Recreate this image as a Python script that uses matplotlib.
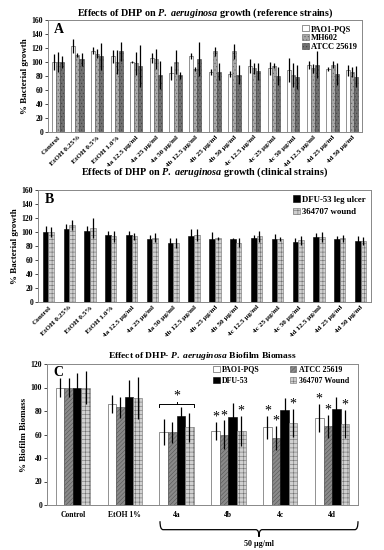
import matplotlib
matplotlib.use("Agg")
import matplotlib.pyplot as plt
import matplotlib.transforms as mtransforms
from matplotlib.path import Path
from matplotlib.patches import PathPatch
import numpy as np

plt.rcParams['font.family'] = ['Liberation Serif', 'DejaVu Serif']
plt.rcParams['font.weight'] = 'bold'
plt.rcParams['hatch.linewidth'] = 0.4
plt.rcParams['mathtext.fontset'] = 'custom'
plt.rcParams['mathtext.it'] = 'Liberation Serif:italic:bold'
plt.rcParams['mathtext.rm'] = 'Liberation Serif:bold'

# ---------------- data ----------------
cats_ab = ["Control", "EtOH 0.25%", "EtOH 0.5%", "EtOH 1.0%",
           "4a 12.5 µg/ml", "4a 25 µg/ml", "4a 50 µg/ml",
           "4b 12.5 µg/ml", "4b 25 µg/ml", "4b 50 µg/ml",
           "4c 12.5 µg/ml", "4c 25 µg/ml", "4c 50 µg/ml",
           "4d 12.5 µg/ml", "4d 25 µg/ml", "4d 50 µg/ml"]

a_pao1 = [100, 123, 116, 108, 100, 106, 85, 109, 86, 83, 94, 91, 89, 96, 90, 88]
a_pao1_err = [12, 10, 5, 9, 2, 7, 10, 4, 4, 4, 10, 9, 17, 6, 3, 8]
a_mh602 = [100, 110, 112, 100, 98, 104, 100, 90, 115, 115, 91, 95, 82, 91, 96, 86]
a_mh602_err = [14, 3, 6, 17, 16, 14, 17, 3, 7, 10, 8, 3, 17, 6, 5, 7]
a_atcc = [100, 104, 108, 115, 94, 82, 81, 104, 86, 82, 87, 80, 79, 96, 83, 79]
a_atcc_err = [8, 9, 19, 13, 30, 20, 5, 24, 12, 14, 12, 13, 17, 19, 16, 15]

b_dfu = [100, 104, 101, 96, 96, 90, 85, 94, 90, 90, 92, 90, 86, 93, 90, 87]
b_dfu_err = [8, 8, 8, 6, 6, 6, 7, 11, 10, 2, 4, 7, 5, 6, 5, 7]
b_wound = [100, 110, 106, 94, 94, 92, 84, 96, 91, 85, 94, 90, 88, 93, 91, 87]
b_wound_err = [7, 7, 14, 8, 5, 6, 7, 9, 2, 7, 8, 3, 7, 7, 5, 6]

cats_c = ["Control", "EtOH 1%", "4a", "4b", "4c", "4d"]
c_pao1 = [100, 86, 62, 63, 66, 74]
c_pao1_err = [8, 8, 11, 8, 10, 12]
c_atcc = [100, 83, 62, 60, 57, 67]
c_atcc_err = [8, 9, 9, 12, 10, 10]
c_dfu = [100, 92, 76, 75, 81, 82]
c_dfu_err = [12, 14, 7, 12, 10, 10]
c_wound = [100, 91, 66, 63, 70, 69]
c_wound_err = [14, 18, 12, 13, 12, 12]
c_star_pao1 = [False, False, False, True, True, True]
c_star_atcc = [False, False, False, True, True, True]
c_star_wound = [False, False, False, True, True, True]

# ---------------- figure ----------------
fig = plt.figure(figsize=(3.84, 5.5), dpi=100)
W, H = 384.0, 550.0

def ax_at(l, r, t, b):
    return fig.add_axes([l / W, 1 - b / H, (r - l) / W, (b - t) / H])

ekw = dict(ecolor='black', elinewidth=0.9, capsize=0)
edge = '#404040'
PA = r'$\mathit{P.}$ $\mathit{aeruginosa}$'

def style(ax, ymax, ylab):
    ax.set_ylim(0, ymax)
    ax.set_yticks(np.arange(0, ymax + 1, 20))
    ax.tick_params(axis='y', labelsize=5.5, length=2, width=0.5, pad=1.5)
    ax.tick_params(axis='x', labelsize=5.2, length=0, pad=2)
    for s in ax.spines.values():
        s.set_color('#888888')
        s.set_linewidth(0.7)
    ax.set_ylabel(ylab, fontsize=6.5, fontweight='bold', labelpad=2)

# Panel A
axA = ax_at(48, 362, 20, 132)
n = len(cats_ab)
x = np.arange(n)
w = 0.21
axA.bar(x - w, a_pao1, w, yerr=a_pao1_err, color='white', edgecolor=edge,
        linewidth=0.4, error_kw=ekw, label='PAO1-PQS')
axA.bar(x, a_mh602, w, yerr=a_mh602_err, color='#a8a8a8', edgecolor='#606060',
        hatch='.....', linewidth=0.4, error_kw=ekw, label='MH602')
axA.bar(x + w, a_atcc, w, yerr=a_atcc_err, color='#707070', edgecolor='#404040',
        hatch='.....', linewidth=0.4, error_kw=ekw, label='ATCC 25619')
axA.set_xlim(-0.5, n - 0.5)
axA.set_xticks(x)
axA.set_xticklabels(cats_ab, rotation=45, ha='right', rotation_mode='anchor')
style(axA, 160, '% Bacterial growth')
axA.set_title('Effects of DHP on ' + PA + ' growth (reference strains)',
              fontsize=7.3, fontweight='bold', pad=3)
axA.text(0.02, 0.97, 'A', transform=axA.transAxes, fontsize=10, fontweight='bold',
         va='top', ha='left')
axA.legend(loc='upper right', frameon=False, handlelength=0.8,
           handleheight=0.8, labelspacing=0.1, handletextpad=0.3,
           borderaxespad=0.2, prop={'weight': 'bold', 'size': 6.0})

# Panel B
axB = ax_at(38, 371, 190, 302)
w2 = 0.27
axB.bar(x - w2 / 2, b_dfu, w2, yerr=b_dfu_err, color='black', edgecolor='black',
        linewidth=0.4, error_kw=ekw, label='DFU-53 leg ulcer')
axB.bar(x + w2 / 2, b_wound, w2, yerr=b_wound_err, color='#d0d0d0', edgecolor='#707070',
        hatch='++++', linewidth=0.4, error_kw=ekw, label='364707 wound')
axB.set_xlim(-0.5, n - 0.5)
axB.set_xticks(x)
axB.set_xticklabels(cats_ab, rotation=45, ha='right', rotation_mode='anchor')
style(axB, 160, '% Bacterial growth')
axB.set_title('Effects of DHP on ' + PA + ' growth (clinical strains)',
              fontsize=7.3, fontweight='bold', pad=11)
axB.text(0.02, 0.97, 'B', transform=axB.transAxes, fontsize=10, fontweight='bold',
         va='top', ha='left')
axB.legend(loc='upper right', frameon=False, handlelength=0.8,
           handleheight=0.8, labelspacing=0.45, handletextpad=0.3,
           borderaxespad=0.2, prop={'weight': 'bold', 'size': 6.3})

# Panel C
axC = ax_at(47, 358, 364, 505)
m = len(cats_c)
xc = np.arange(m)
w3 = 0.165
offs = np.array([-1.5, -0.5, 0.5, 1.5]) * w3
bP = axC.bar(xc + offs[0], c_pao1, w3, yerr=c_pao1_err, color='white', edgecolor=edge,
             linewidth=0.4, error_kw=ekw, label='PAO1-PQS')
bA = axC.bar(xc + offs[1], c_atcc, w3, yerr=c_atcc_err, color='#8a8a8a', edgecolor='#555555',
             hatch='////////', linewidth=0.4, error_kw=ekw, label='ATCC 25619')
bD = axC.bar(xc + offs[2], c_dfu, w3, yerr=c_dfu_err, color='black', edgecolor='black',
             linewidth=0.4, error_kw=ekw, label='DFU-53')
bW = axC.bar(xc + offs[3], c_wound, w3, yerr=c_wound_err, color='#d0d0d0', edgecolor='#707070',
             hatch='++++', linewidth=0.4, error_kw=ekw, label='364707 Wound')
axC.set_xlim(-0.5, m - 0.5)
axC.set_xticks(xc)
axC.set_xticklabels(cats_c)
style(axC, 120, '% Biofilm Biomass')
axC.tick_params(axis='x', labelsize=5.5, pad=4)
axC.set_title('Effect of DHP- ' + PA + ' Biofilm Biomass',
              fontsize=6.8, fontweight='bold', pad=4)
axC.text(0.02, 0.985, 'C', transform=axC.transAxes, fontsize=10, fontweight='bold',
         va='top', ha='left')
axC.legend(handles=[bP, bD, bA, bW], loc='upper right', ncol=2, frameon=False,
           handlelength=0.8, handleheight=0.8, labelspacing=0.45, handletextpad=0.3,
           columnspacing=3.8, borderaxespad=0.15, bbox_to_anchor=(0.985, 1.02),
           prop={'weight': 'bold', 'size': 5.7})

# stars
for i in range(m):
    for vals, errs, flags, o in [(c_pao1, c_pao1_err, c_star_pao1, offs[0]),
                                 (c_atcc, c_atcc_err, c_star_atcc, offs[1]),
                                 (c_wound, c_wound_err, c_star_wound, offs[3])]:
        if flags[i]:
            axC.text(i + o, vals[i] + errs[i] - 1.5, '*', ha='center', va='bottom',
                     fontsize=10, fontweight='normal')
# bracket over 4a group
gi = 2
xl, xr = gi + offs[0] - w3 / 2, gi + offs[3] + w3 / 2
axC.plot([xl, xl, xr, xr], [83, 86, 86, 83], color='black', lw=0.7)
axC.plot([gi, gi], [86, 88], color='black', lw=0.7)
axC.text(gi, 87, '*', ha='center', va='bottom', fontsize=10, fontweight='normal')

# curly brace below x axis
tr = mtransforms.blended_transform_factory(axC.transData, axC.transAxes)
bl, br = 1.68, 5.5
bm = (bl + br) / 2
yb0, yb1, yb2 = -0.115, -0.175, -0.225
c = 0.06
verts = [(bl, yb0), (bl, yb1), (bl + c, yb1),
         (bm - c, yb1), (bm, yb1), (bm, yb2),
         (bm, yb1), (bm + c, yb1),
         (br - c, yb1), (br, yb1), (br, yb0)]
codes = [Path.MOVETO, Path.CURVE3, Path.CURVE3,
         Path.LINETO, Path.CURVE3, Path.CURVE3,
         Path.CURVE3, Path.CURVE3,
         Path.LINETO, Path.CURVE3, Path.CURVE3]
pp = PathPatch(Path(verts, codes), fill=False, lw=0.9, edgecolor='black',
               transform=tr, clip_on=False)
axC.add_patch(pp)
axC.text(bm, yb2 - 0.025, '50 µg/ml', ha='center', va='top', fontsize=5.8,
         fontweight='bold', transform=tr)

fig.savefig('out.png', dpi=100)
